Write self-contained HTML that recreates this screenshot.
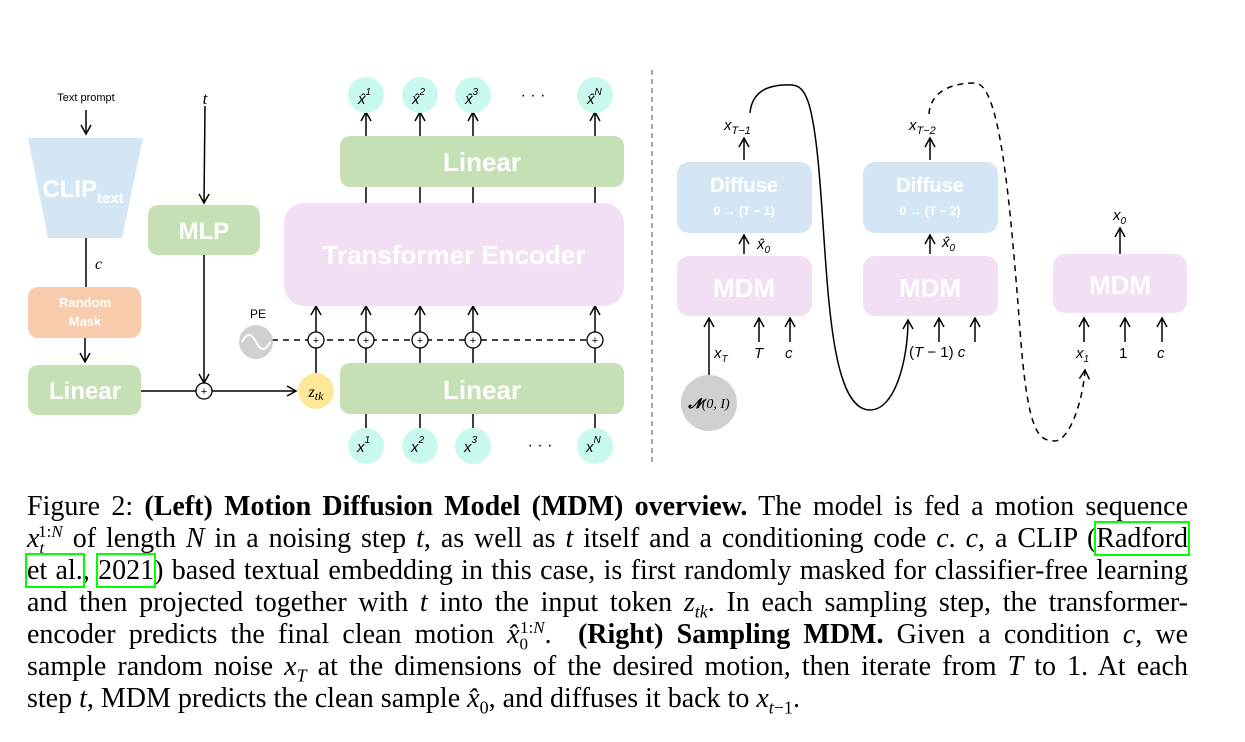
<!DOCTYPE html>
<html><head><meta charset="utf-8"><style>
body{margin:0;background:#fff;width:1245px;height:742px;overflow:hidden;position:relative}
.ln{position:absolute;left:27px;width:1161px;height:32px;font-family:"Liberation Serif",serif;font-size:28px;line-height:32px;text-align:justify;text-align-last:justify;white-space:nowrap;color:#000}
.ln.last{text-align-last:left}
.ln sub,.ln sup{line-height:0}
i{font-style:italic}
.box{outline:2px solid #00ff00;outline-offset:0}
svg text{font-family:"Liberation Sans",sans-serif}
.m{font-family:"Liberation Serif",serif;font-style:italic}
</style></head><body>
<svg width="1245" height="480" style="position:absolute;left:0;top:0" xmlns="http://www.w3.org/2000/svg">
<defs><marker id="a" markerWidth="12" markerHeight="12" refX="10" refY="6" orient="auto" markerUnits="userSpaceOnUse"><path d="M1,1 L10,6 L1,11" fill="none" stroke="#000" stroke-width="1.5"/></marker>
<g id="col" stroke="#000" stroke-width="1.5" fill="none"><line x1="0" y1="428" x2="0" y2="413"/><line x1="0" y1="363" x2="0" y2="348"/><line x1="0" y1="332" x2="0" y2="306" marker-end="url(#a)"/><line x1="0" y1="203" x2="0" y2="187"/><line x1="0" y1="136" x2="0" y2="112" marker-end="url(#a)"/></g>
</defs>
<g stroke="#000" stroke-width="1.5" fill="none">
<line x1="86" y1="110" x2="86" y2="134" marker-end="url(#a)"/>
<line x1="86" y1="238" x2="86" y2="287"/>
<line x1="85" y1="337" x2="85" y2="362" marker-end="url(#a)"/>
<line x1="205" y1="106" x2="204" y2="203" marker-end="url(#a)"/>
<line x1="204" y1="255" x2="204" y2="383" marker-end="url(#a)"/>
<line x1="140" y1="391" x2="196" y2="391"/>
<line x1="212" y1="391" x2="296" y2="391" marker-end="url(#a)"/>
<line x1="316" y1="373" x2="316" y2="348"/>
<line x1="316" y1="332" x2="316" y2="306" marker-end="url(#a)"/>
<line x1="272" y1="340" x2="587" y2="340" stroke-dasharray="6,5"/>
</g>
<use href="#col" x="366"/><use href="#col" x="420"/><use href="#col" x="473"/><use href="#col" x="595"/>
<polygon points="28,138 143,138 122,238 48,238" fill="#d4e6f4"/>
<text x="83" y="197" fill="#fff" font-size="24" font-weight="bold" text-anchor="middle">CLIP<tspan font-size="15" dy="6">text</tspan></text>
<text x="86" y="101" font-size="11" text-anchor="middle">Text prompt</text>
<text x="95" y="269" class="m" font-size="16">c</text>
<text x="205" y="104" class="m" font-size="17" text-anchor="middle">t</text>
<rect x="28" y="287" width="113" height="51" rx="10" fill="#f8cbad"/>
<text x="85" y="307" fill="#fff" font-size="13" font-weight="bold" text-anchor="middle">Random</text>
<text x="85" y="326" fill="#fff" font-size="13" font-weight="bold" text-anchor="middle">Mask</text>
<rect x="28" y="365" width="113" height="50" rx="10" fill="#c5e0b4"/>
<text x="85" y="399" fill="#fff" font-size="24" font-weight="bold" text-anchor="middle">Linear</text>
<rect x="148" y="205" width="112" height="50" rx="10" fill="#c5e0b4"/>
<text x="204" y="239" fill="#fff" font-size="24" font-weight="bold" text-anchor="middle">MLP</text>
<rect x="340" y="136" width="284" height="51" rx="10" fill="#c5e0b4"/>
<text x="482" y="171" fill="#fff" font-size="26" font-weight="bold" text-anchor="middle">Linear</text>
<rect x="284" y="203" width="340" height="103" rx="20" fill="#f2dff3"/>
<text x="454" y="264" fill="#fff" font-size="26" font-weight="bold" text-anchor="middle">Transformer Encoder</text>
<rect x="340" y="363" width="284" height="51" rx="10" fill="#c5e0b4"/>
<text x="482" y="399" fill="#fff" font-size="26" font-weight="bold" text-anchor="middle">Linear</text>
<circle cx="316" cy="391" r="18" fill="#fde89a"/>
<text x="316" y="397" class="m" font-size="16" text-anchor="middle">z<tspan font-size="12" dy="3">tk</tspan></text>
<circle cx="256" cy="342" r="17" fill="#d0d0d0"/>
<path d="M242,342 q7,-14 14,0 t14,0" stroke="#fff" stroke-width="2" fill="none"/>
<text x="258" y="318" font-size="12" text-anchor="middle">PE</text>
<g fill="#fff" stroke="#000" stroke-width="1.3">
<circle cx="204" cy="391" r="8"/><circle cx="316" cy="340" r="8"/><circle cx="366" cy="340" r="8"/><circle cx="420" cy="340" r="8"/><circle cx="473" cy="340" r="8"/><circle cx="595" cy="340" r="8"/>
</g>
<g font-size="11" text-anchor="middle"><text x="204" y="395">+</text><text x="316" y="344">+</text><text x="366" y="344">+</text><text x="420" y="344">+</text><text x="473" y="344">+</text><text x="595" y="344">+</text></g>
<g fill="#c8f8ee">
<circle cx="366" cy="95" r="18"/><circle cx="420" cy="95" r="18"/><circle cx="473" cy="95" r="18"/><circle cx="595" cy="95" r="18"/>
<circle cx="366" cy="446" r="18"/><circle cx="420" cy="446" r="18"/><circle cx="473" cy="446" r="18"/><circle cx="595" cy="446" r="18"/>
</g>
<g class="m" font-size="15">
<text x="358" y="104">x̂<tspan font-size="10" dy="-9">1</tspan></text><text x="412" y="104">x̂<tspan font-size="10" dy="-9">2</tspan></text><text x="465" y="104">x̂<tspan font-size="10" dy="-9">3</tspan></text><text x="587" y="104">x̂<tspan font-size="10" dy="-9">N</tspan></text>
<text x="357" y="452">x<tspan font-size="10" dy="-9">1</tspan></text><text x="411" y="452">x<tspan font-size="10" dy="-9">2</tspan></text><text x="464" y="452">x<tspan font-size="10" dy="-9">3</tspan></text><text x="586" y="452">x<tspan font-size="10" dy="-9">N</tspan></text>
</g>
<text x="533" y="100" font-size="16" text-anchor="middle">· · ·</text>
<text x="540" y="450" font-size="16" text-anchor="middle">· · ·</text>
<line x1="652" y1="70" x2="652" y2="462" stroke="#777" stroke-width="1.3" stroke-dasharray="5,4"/>
<rect x="677" y="162" width="135" height="71" rx="12" fill="#d4e6f4"/>
<text x="744" y="192" fill="#fff" font-size="20" font-weight="bold" text-anchor="middle">Diffuse</text>
<text x="744" y="215" fill="#fff" font-size="12" font-family="Liberation Serif" font-weight="bold" text-anchor="middle">0 → (T − 1)</text>
<rect x="677" y="256" width="135" height="60" rx="12" fill="#f2dff3"/>
<text x="744" y="297" fill="#fff" font-size="26" font-weight="bold" text-anchor="middle">MDM</text>
<rect x="863" y="162" width="135" height="71" rx="12" fill="#d4e6f4"/>
<text x="930" y="192" fill="#fff" font-size="20" font-weight="bold" text-anchor="middle">Diffuse</text>
<text x="930" y="215" fill="#fff" font-size="12" font-family="Liberation Serif" font-weight="bold" text-anchor="middle">0 → (T − 2)</text>
<rect x="863" y="256" width="135" height="60" rx="12" fill="#f2dff3"/>
<text x="930" y="297" fill="#fff" font-size="26" font-weight="bold" text-anchor="middle">MDM</text>
<rect x="1053" y="254" width="134" height="59" rx="12" fill="#f2dff3"/>
<text x="1120" y="294" fill="#fff" font-size="26" font-weight="bold" text-anchor="middle">MDM</text>
<g stroke="#000" stroke-width="1.5" fill="none">
<line x1="744" y1="160" x2="744" y2="138" marker-end="url(#a)"/>
<line x1="744" y1="254" x2="744" y2="235" marker-end="url(#a)"/>
<line x1="709" y1="375" x2="709" y2="318" marker-end="url(#a)"/>
<line x1="759" y1="342" x2="759" y2="318" marker-end="url(#a)"/>
<line x1="790" y1="342" x2="790" y2="318" marker-end="url(#a)"/>
<line x1="930" y1="160" x2="930" y2="138" marker-end="url(#a)"/>
<line x1="930" y1="254" x2="930" y2="235" marker-end="url(#a)"/>
<line x1="939" y1="342" x2="939" y2="318" marker-end="url(#a)"/>
<line x1="975" y1="342" x2="975" y2="318" marker-end="url(#a)"/>
<line x1="1120" y1="254" x2="1120" y2="228" marker-end="url(#a)"/>
<line x1="1084" y1="342" x2="1084" y2="318" marker-end="url(#a)"/>
<line x1="1125" y1="342" x2="1125" y2="318" marker-end="url(#a)"/>
<line x1="1162" y1="342" x2="1162" y2="318" marker-end="url(#a)"/>
<path d="M750,113 C752,90 770,84 792,85 C805,86 812,100 818,160 C828,260 826,410 870,410 C895,410 908,360 908,320" marker-end="url(#a)"/>
<path d="M929,114 C930,96 945,83 975,83 C1000,83 1010,200 1020,330 C1028,440 1040,440 1055,441 C1070,440 1083,400 1085,370" stroke-dasharray="6,5" marker-end="url(#a)"/>
</g>
<circle cx="709" cy="403" r="28" fill="#d0d0d0"/>
<text x="709" y="408" font-size="14" class="m" text-anchor="middle"><tspan font-weight="bold">𝓝</tspan>(0, I)</text>
<g class="m" font-size="15">
<text x="724" y="130">x<tspan font-size="11" dy="4">T−1</tspan></text>
<text x="909" y="130">x<tspan font-size="11" dy="4">T−2</tspan></text>
<text x="757" y="249">x̂<tspan font-size="10" dy="4">0</tspan></text>
<text x="942" y="247">x̂<tspan font-size="10" dy="4">0</tspan></text>
<text x="1113" y="220">x<tspan font-size="10" dy="4">0</tspan></text>
<text x="714" y="358">x<tspan font-size="10" dy="4">T</tspan></text>
<text x="754" y="358">T</text>
<text x="785" y="358">c</text>
<text x="909" y="357" font-style="normal">(<tspan font-style="italic">T</tspan> − 1) <tspan font-style="italic">c</tspan></text>
<text x="1076" y="358">x<tspan font-size="10" dy="4">1</tspan></text>
<text x="1119" y="358" font-style="normal">1</text>
<text x="1157" y="358">c</text>
</g>
</svg>
<div class="ln" style="top:491px">Figure 2: <b>(Left) Motion Diffusion Model (MDM) overview.</b> The model is fed a motion sequence</div>
<div class="ln" style="top:523px"><i>x</i><sub style="font-size:17px"><i>t</i></sub><sup style="font-size:17px;margin-left:-6px">1:<i>N</i></sup> of length <i>N</i> in a noising step <i>t</i>, as well as <i>t</i> itself and a conditioning code <i>c</i>. <i>c</i>, a CLIP (<span class="box">Radford</span></div>
<div class="ln" style="top:555px"><span class="box">et al.</span>, <span class="box">2021</span>) based textual embedding in this case, is first randomly masked for classifier-free learning</div>
<div class="ln" style="top:587px">and then projected together with <i>t</i> into the input token <i>z<sub style="font-size:18px">tk</sub></i>. In each sampling step, the transformer-</div>
<div class="ln" style="top:619px">encoder predicts the final clean motion <i>x̂</i><sub style="font-size:17px">0</sub><sup style="font-size:17px;margin-left:-8px">1:<i>N</i></sup>. &nbsp;<b>(Right) Sampling MDM.</b> Given a condition <i>c</i>, we</div>
<div class="ln" style="top:651px">sample random noise <i>x<sub style="font-size:18px">T</sub></i> at the dimensions of the desired motion, then iterate from <i>T</i> to 1. At each</div>
<div class="ln last" style="top:683px">step <i>t</i>, MDM predicts the clean sample <i>x̂</i><sub style="font-size:18px">0</sub>, and diffuses it back to <i>x</i><sub style="font-size:18px"><i>t</i>−1</sub>.</div>
</body></html>
